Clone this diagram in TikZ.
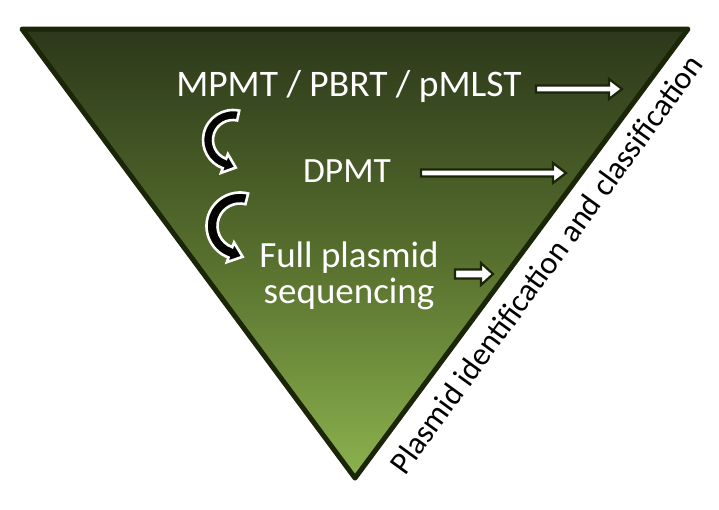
\documentclass[tikz,border=0pt]{standalone}
\usepackage{fontspec}
\setmainfont{Carlito}
\usetikzlibrary{calc}
\definecolor{edgedark}{HTML}{1B2609}
\definecolor{topgreen}{HTML}{2C381A}
\definecolor{midgreen}{HTML}{566E2D}
\definecolor{botgreen}{HTML}{8CB24E}
\tikzset{
  lbl/.style={text=white, anchor=base, inner sep=0pt, align=center},
  blockarr/.style={fill=white, draw=edgedark, line width=2.2pt, line join=miter},
  curvarr/.style={fill=black!90!edgedark, draw=white, line width=2.6pt, line join=miter},
}
% block arrow: #1 x start, #2 x tip, #3 y, #4 shaft half height, #5 head half height, #6 head length
\newcommand{\blkarrow}[6]{%
  \draw[blockarr] (#1,-#3+#4) -- (#2-#6,-#3+#4) -- (#2-#6,-#3+#5) -- (#2,-#3)
     -- (#2-#6,-#3-#5) -- (#2-#6,-#3-#4) -- (#1,-#3-#4) -- cycle;}
% curved arrow: #1 center, #2 radius, #3 half width, #4 start angle, #5 end angle, #6 head extra, #7 head length
\newcommand{\crvarrow}[7]{%
  \draw[curvarr] ($(#1)+(#4:#2+#3)$) arc[start angle=#4, end angle=#5, radius=#2+#3]
    -- ($(#1)+(#5:#2+#3+#6)$) -- ($(#1)+(#5:#2)+(#5+90:#7)$)
    -- ($(#1)+(#5:#2-#3-#6)$) -- ($(#1)+(#5:#2-#3)$)
    arc[start angle=#5, end angle=#4, radius=#2-#3] -- cycle;}
\begin{document}
\begin{tikzpicture}[x=1pt,y=1pt]
\useasboundingbox (0,0) rectangle (719,-509);
\fill[white] (0,0) rectangle (719,-509);
% triangle
\coordinate (tl) at (22,-29);
\coordinate (tr) at (688,-29);
\coordinate (bt) at (355,-478);
\shade[top color=topgreen, bottom color=botgreen, middle color=midgreen] (tl) -- (tr) -- (bt) -- cycle;
\draw[edgedark, line width=5pt, line join=round] (tl) -- (tr) -- (bt) -- cycle;
% texts
\node[lbl, font=\fontsize{37.5}{44}\selectfont] (m1) at (349,-96) {MPMT / PBRT / pMLST};
\node[lbl, font=\fontsize{35.5}{44}\selectfont] (m2) at (347,-182) {DPMT};
\node[lbl, font=\fontsize{37}{44}\selectfont] (m3) at (349,-267) {Full plasmid};
\node[lbl, font=\fontsize{37}{44}\selectfont] (m4) at (349,-303) {sequencing};
\node[rotate=54, font=\fontsize{32}{36}\selectfont, inner sep=0pt] (side) at (546,-264) {Plasmid identification and classification};
% straight arrows
\blkarrow{536}{622}{89}{3.5}{10}{13}
\blkarrow{421}{566}{173}{3.5}{10}{13}
\blkarrow{455}{493}{274}{4.5}{11}{12}
% curved arrows
\coordinate (c1) at (233,-140);
\coordinate (c2) at (240,-226);
\crvarrow{c1}{25}{5}{78}{250}{5}{12}
\crvarrow{c2}{28}{5.5}{76}{250}{5}{13}
\end{tikzpicture}
\end{document}
